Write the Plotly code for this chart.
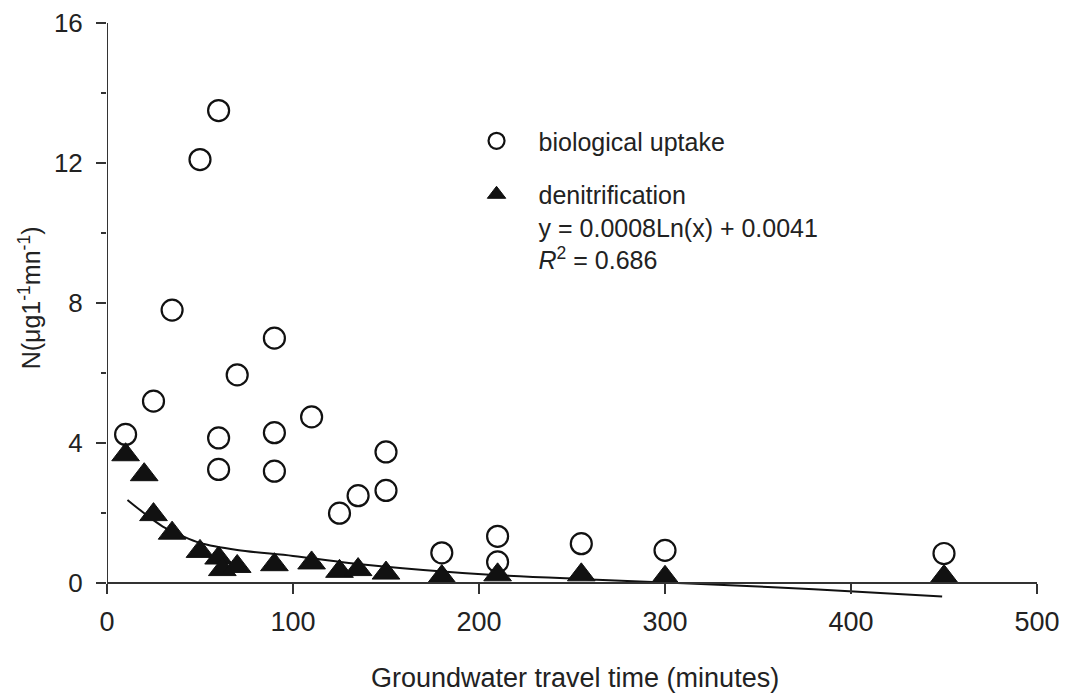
import plotly.graph_objects as go

# Biological uptake (open circles)
bio_x = [10, 25, 35, 50, 60, 60, 60, 70, 90, 90, 90, 110, 125, 135, 150, 150, 180, 210, 210, 255, 300, 450]
bio_y = [4.25, 5.2, 7.8, 12.1, 13.5, 4.15, 3.25, 5.95, 7.0, 4.3, 3.2, 4.75, 2.0, 2.5, 3.75, 2.65, 0.87, 1.34, 0.61, 1.13, 0.94, 0.85]

# Denitrification (filled triangles)
den_x = [10, 20, 25, 35, 50, 60, 62, 70, 90, 110, 125, 135, 150, 180, 210, 255, 300, 450]
den_y = [3.67, 3.1, 1.96, 1.43, 0.91, 0.72, 0.39, 0.48, 0.53, 0.58, 0.34, 0.39, 0.29, 0.19, 0.24, 0.24, 0.17, 0.19]

# Logarithmic trend line
fit_x = [11, 20, 30, 40, 50, 70, 100, 130, 170, 210, 260, 310, 380, 449]
fit_y = [2.38, 2.0, 1.62, 1.36, 1.15, 0.95, 0.78, 0.58, 0.38, 0.23, 0.11, 0.0, -0.17, -0.38]

x_ticks = [0, 100, 200, 300, 400, 500]
y_ticks = [0, 4, 8, 12, 16]

FONT = "Liberation Sans, Arial, sans-serif"
TXT = "#222222"
AX = "#333333"

fig = go.Figure()

fig.add_trace(go.Scatter(
    x=fit_x, y=fit_y, mode="lines", line=dict(color="#111111", width=2, shape="spline"),
    showlegend=False, hoverinfo="skip"))

fig.add_trace(go.Scatter(
    x=bio_x, y=bio_y, mode="markers", name="biological uptake",
    legendgroup="a",
    marker=dict(symbol="circle-open", size=21, color="#111111", line=dict(width=2.2, color="#111111"))))

fig.add_trace(go.Scatter(
    x=den_x, y=den_y, mode="markers",
    name="denitrification<br>y = 0.0008Ln(x) + 0.0041<br><i>R</i><sup>2</sup> = 0.686",
    legendgroup="b",
    marker=dict(symbol="triangle-up", size=24, color="#111111", line=dict(width=1, color="#111111"))))

# y-axis line from 0 to 16
fig.add_shape(type="line", xref="x", yref="y", x0=0, x1=0, y0=0, y1=16,
              line=dict(color=AX, width=2), layer="above")

fig.update_layout(
    width=1059, height=689,
    margin=dict(l=99, r=30, t=15, b=98, autoexpand=False),
    paper_bgcolor="white", plot_bgcolor="white",
    font=dict(family=FONT, size=25, color=TXT),
    legend=dict(
        x=0.3737, y=0.835, xanchor="left", yanchor="top",
        itemwidth=74, valign="top", traceorder="grouped", tracegroupgap=18,
        font=dict(family=FONT, size=25, color=TXT),
        bgcolor="rgba(0,0,0,0)",
    ),
    xaxis=dict(
        range=[0, 500], tickvals=x_ticks, ticks="outside", ticklen=10, tickwidth=2,
        tickcolor=AX, showline=True, linecolor=AX, linewidth=2,
        showgrid=False, zeroline=False, anchor="free", position=0.45 / 16.45,
        ticklabelstandoff=4, tickfont=dict(size=27, color=TXT), automargin=False,
    ),
    yaxis=dict(
        range=[-0.45, 16], tickvals=y_ticks, ticks="outside", ticklen=10, tickwidth=2,
        tickcolor=AX, showline=False, showgrid=False, zeroline=False,
        minor=dict(tickvals=[2, 6, 10, 14], ticks="outside", ticklen=5, tickwidth=2, tickcolor=AX),
        ticklabelstandoff=8, tickfont=dict(size=26, color=TXT), automargin=False,
    ),
    annotations=[
        dict(text="Groundwater travel time (minutes)", xref="paper", yref="paper",
             x=0.503, y=-0.138, xanchor="center", yanchor="middle", showarrow=False,
             font=dict(size=27, color=TXT, family=FONT)),
        dict(text="N(μg1<sup>-1</sup>mn<sup>-1</sup>)", xref="paper", yref="paper",
             x=(30 - 107) / 930, y=0.522, xanchor="center", yanchor="middle", showarrow=False,
             textangle=-90, font=dict(size=25, color=TXT, family=FONT)),
    ],
)

fig.write_html("out.html")
